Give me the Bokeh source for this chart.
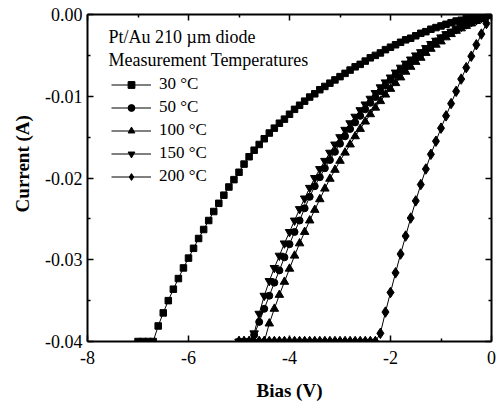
import math
from bokeh.plotting import figure
from bokeh.models import (Range1d, LinearAxis, FixedTicker, NumeralTickFormatter,
                          Legend, LegendItem, Label, ColumnDataSource)
from bokeh.embed import file_html
from bokeh.resources import INLINE

# ---------------- data ----------------
bias_30 = [-7.0, -6.9, -6.8, -6.7, -6.6, -6.5, -6.4, -6.3, -6.2, -6.1,
           -6.0, -5.9, -5.8, -5.7, -5.6, -5.5, -5.4, -5.3, -5.2, -5.1,
           -5.0, -4.9, -4.8, -4.7, -4.6, -4.5, -4.4, -4.3, -4.2, -4.1,
           -4.0, -3.9, -3.8, -3.7, -3.6, -3.5, -3.4, -3.3, -3.2, -3.1,
           -3.0, -2.9, -2.8, -2.7, -2.6, -2.5, -2.4, -2.3, -2.2, -2.1,
           -2.0, -1.9, -1.8, -1.7, -1.6, -1.5, -1.4, -1.3, -1.2, -1.1,
           -1.0, -0.9, -0.8, -0.7, -0.6, -0.5, -0.4, -0.3, -0.2, -0.1,
           0.0]
current_30 = [-0.0400, -0.0400, -0.0400, -0.0400, -0.0381, -0.0365, -0.0350, -0.0336, -0.0323, -0.0310,
              -0.0298, -0.0286, -0.0274, -0.0263, -0.0252, -0.0241, -0.0231, -0.0221, -0.0211, -0.0202,
              -0.0193, -0.0183, -0.0174, -0.0166, -0.0159, -0.0152, -0.0145, -0.0139, -0.0133, -0.0128,
              -0.0122, -0.0116, -0.0111, -0.0106, -0.0101, -0.0097, -0.0092, -0.0088, -0.0084, -0.0080,
              -0.0076, -0.0072, -0.0068, -0.0064, -0.0061, -0.0057, -0.0053, -0.0050, -0.0047, -0.0043,
              -0.0040, -0.0037, -0.0034, -0.0031, -0.0029, -0.0026, -0.0023, -0.0021, -0.0018, -0.0016,
              -0.0014, -0.0012, -0.0010, -0.0008, -0.0007, -0.0005, -0.0004, -0.0003, -0.0002, -0.0001,
              0.0000]

bias_hi = [-5.0, -4.9, -4.8, -4.7, -4.6, -4.5, -4.4, -4.3, -4.2, -4.1,
           -4.0, -3.9, -3.8, -3.7, -3.6, -3.5, -3.4, -3.3, -3.2, -3.1,
           -3.0, -2.9, -2.8, -2.7, -2.6, -2.5, -2.4, -2.3, -2.2, -2.1,
           -2.0, -1.9, -1.8, -1.7, -1.6, -1.5, -1.4, -1.3, -1.2, -1.1,
           -1.0, -0.9, -0.8, -0.7, -0.6, -0.5, -0.4, -0.3, -0.2, -0.1,
           0.0]
current_50 = [-0.0400, -0.0400, -0.0400, -0.0392, -0.0376, -0.0360, -0.0344, -0.0328, -0.0313, -0.0297,
              -0.0281, -0.0266, -0.0252, -0.0237, -0.0223, -0.0210, -0.0199, -0.0188, -0.0178, -0.0168,
              -0.0158, -0.0149, -0.0140, -0.0132, -0.0124, -0.0116, -0.0108, -0.0101, -0.0094, -0.0087,
              -0.0080, -0.0074, -0.0068, -0.0063, -0.0058, -0.0053, -0.0048, -0.0043, -0.0038, -0.0033,
              -0.0029, -0.0025, -0.0022, -0.0018, -0.0015, -0.0012, -0.0010, -0.0007, -0.0005, -0.0002,
              0.0000]
current_100 = [-0.0400, -0.0400, -0.0400, -0.0400, -0.0400, -0.0400, -0.0378, -0.0360, -0.0343, -0.0327,
               -0.0311, -0.0295, -0.0280, -0.0266, -0.0252, -0.0239, -0.0226, -0.0213, -0.0201, -0.0190,
               -0.0179, -0.0169, -0.0159, -0.0149, -0.0140, -0.0131, -0.0122, -0.0114, -0.0106, -0.0098,
               -0.0091, -0.0084, -0.0077, -0.0070, -0.0064, -0.0058, -0.0053, -0.0047, -0.0042, -0.0037,
               -0.0033, -0.0028, -0.0024, -0.0020, -0.0017, -0.0014, -0.0011, -0.0008, -0.0005, -0.0002,
               0.0000]
current_150 = [-0.0400, -0.0400, -0.0400, -0.0390, -0.0366, -0.0344, -0.0326, -0.0310, -0.0295, -0.0280,
               -0.0266, -0.0252, -0.0238, -0.0225, -0.0212, -0.0200, -0.0189, -0.0179, -0.0169, -0.0159,
               -0.0150, -0.0141, -0.0133, -0.0125, -0.0117, -0.0110, -0.0103, -0.0096, -0.0089, -0.0083,
               -0.0077, -0.0071, -0.0065, -0.0060, -0.0055, -0.0050, -0.0046, -0.0041, -0.0036, -0.0032,
               -0.0028, -0.0024, -0.0021, -0.0018, -0.0015, -0.0012, -0.0009, -0.0007, -0.0004, -0.0002,
               0.0000]
current_200 = [-0.0400, -0.0400, -0.0400, -0.0400, -0.0400, -0.0400, -0.0400, -0.0400, -0.0400, -0.0400,
               -0.0400, -0.0400, -0.0400, -0.0400, -0.0400, -0.0400, -0.0400, -0.0400, -0.0400, -0.0400,
               -0.0400, -0.0400, -0.0400, -0.0400, -0.0400, -0.0400, -0.0400, -0.0400, -0.0390, -0.0364,
               -0.0340, -0.0316, -0.0293, -0.0271, -0.0249, -0.0228, -0.0208, -0.0189, -0.0171, -0.0155,
               -0.0139, -0.0124, -0.0109, -0.0094, -0.0079, -0.0065, -0.0051, -0.0037, -0.0024, -0.0011,
               0.0000]

series_labels = ["30 °C", "50 °C", "100 °C", "150 °C", "200 °C"]
header_lines = ["Pt/Au 210 µm diode", "Measurement Temperatures"]
x_major = [-8, -6, -4, -2, 0]
x_minor = [-7, -5, -3, -1]
y_major = [-0.04, -0.03, -0.02, -0.01, 0.0]
y_minor = [-0.035, -0.025, -0.015, -0.005]

# ---------------- figure ----------------
FONT = "Liberation Serif"
p = figure(width=496, height=405, output_backend="svg", toolbar_location=None,
           x_range=Range1d(-8, 0), y_range=Range1d(-0.04, 0),
           min_border_left=87, min_border_right=5, min_border_top=14, min_border_bottom=64)
p.outline_line_color = None
p.xgrid.visible = False
p.ygrid.visible = False
p.background_fill_color = "white"
p.border_fill_color = "white"

p.add_layout(LinearAxis(), "above")
p.add_layout(LinearAxis(), "right")

for ax in p.xaxis:
    ax.ticker = FixedTicker(ticks=x_major, minor_ticks=x_minor)
    ax.formatter = NumeralTickFormatter(format="0")
for ax in p.yaxis:
    ax.ticker = FixedTicker(ticks=y_major, minor_ticks=y_minor)
    ax.formatter = NumeralTickFormatter(format="0.00")

for ax in list(p.xaxis) + list(p.yaxis):
    ax.axis_line_width = 2
    ax.axis_line_color = "black"
    ax.major_tick_in = 6
    ax.major_tick_out = 0
    ax.minor_tick_in = 3
    ax.minor_tick_out = 0
    ax.major_tick_line_width = 1.5
    ax.minor_tick_line_width = 1.5
    ax.major_tick_line_color = "black"
    ax.minor_tick_line_color = "black"
    ax.major_label_text_font = FONT
    ax.major_label_text_font_size = "18px"
    ax.major_label_text_color = "black"

# mirrored axes on top/right: ticks only, no labels painted
for ax in (p.above[0], p.right[0]):
    ax.major_label_text_font_size = "0px"
    ax.major_label_text_color = None
    ax.major_label_standoff = 0

bx_ax = p.below[0]
bx_ax.major_label_standoff = 9
bx_ax.axis_label = "Bias (V)"
bx_ax.axis_label_text_font = FONT
bx_ax.axis_label_text_font_style = "bold"
bx_ax.axis_label_text_font_size = "19px"
bx_ax.axis_label_text_color = "black"
bx_ax.axis_label_standoff = 13

ly_ax = p.left[0]
ly_ax.major_label_standoff = 5
# the title sits ~15 px above the frame centre in the original: pad its lower end
ly_ax.axis_label = "\u00a0" * 6 + "Current (A)"
ly_ax.axis_label_text_font = FONT
ly_ax.axis_label_text_font_style = "bold"
ly_ax.axis_label_text_font_size = "19px"
ly_ax.axis_label_text_color = "black"
ly_ax.axis_label_standoff = 9

# ---------------- series ----------------
specs = [
    (bias_30, current_30, "square", 6.5),
    (bias_hi, current_50, "circle", 7),
    (bias_hi, current_100, "triangle", 8.5),
    (bias_hi, current_150, "inverted_triangle", 8.5),
    (bias_hi, current_200, "diamond", 10.5),
]
items = []
for (bx, cy, marker, size), lab in zip(specs, series_labels):
    src = ColumnDataSource(data=dict(bias=bx, current=cy))
    ln = p.line("bias", "current", source=src, line_color="black", line_width=1)
    sc = p.scatter("bias", "current", source=src, marker=marker, size=size,
                   fill_color="black", line_color="black")
    items.append(LegendItem(label=lab, renderers=[ln, sc]))

legend = Legend(items=items, location=(24, 155), orientation="vertical",
                padding=0, margin=0, spacing=3, glyph_width=40, glyph_height=17,
                label_height=17, label_standoff=8,
                border_line_color=None, background_fill_alpha=0,
                label_text_font=FONT, label_text_font_size="17px",
                label_text_color="black")
p.add_layout(legend)

# header text above the legend
for txt, yv in zip(header_lines, [-0.00281, -0.00562]):
    p.add_layout(Label(x=-7.584, y=yv, text=txt, text_font=FONT, text_font_size="18px",
                       text_align="left", text_baseline="alphabetic", text_color="black"))

open("out.html", "w").write(file_html(p, INLINE))
